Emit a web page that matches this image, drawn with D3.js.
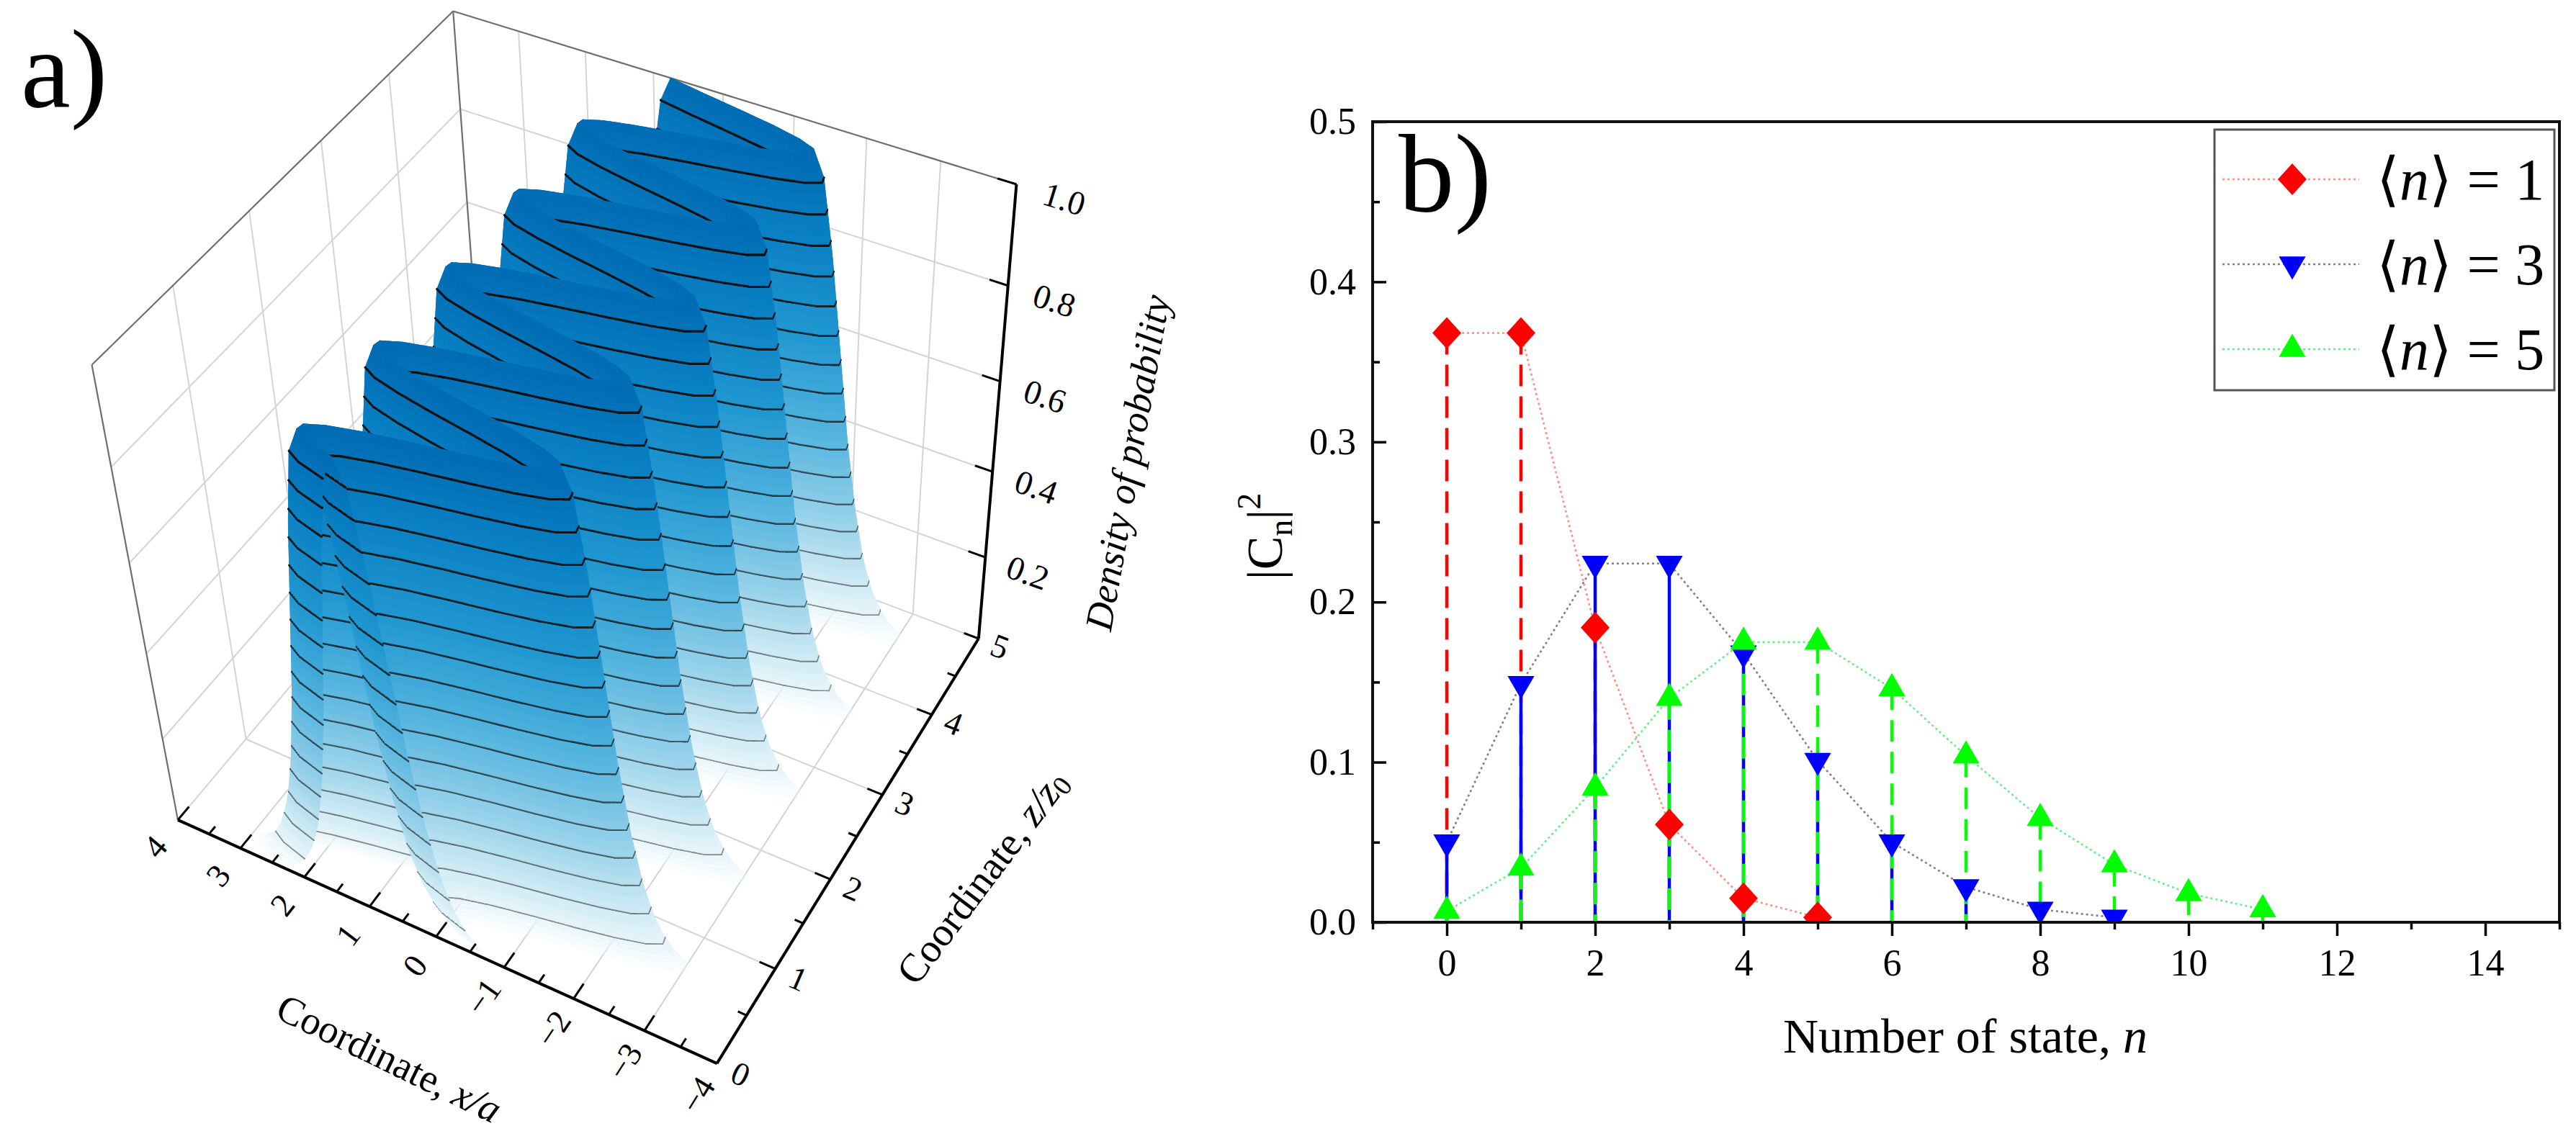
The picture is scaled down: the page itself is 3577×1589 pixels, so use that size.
<!DOCTYPE html>
<html>
<head>
<meta charset="utf-8">
<script src="https://cdn.jsdelivr.net/npm/d3@7"></script>
<style>
  body { margin: 0; background: #fff; }
  svg { display: block; }
  text { font-family: "Liberation Serif", "Times New Roman", serif; fill: #000; }
</style>
</head>
<body>
<div id="chart"></div>
<script>
// ---------- panel b data ----------
const statesN1 = [0, 1, 2, 3, 4, 5];
const probN1 = [0.368, 0.368, 0.184, 0.061, 0.015, 0.003];
const statesN3 = [0, 1, 2, 3, 4, 5, 6, 7, 8, 9];
const probN3 = [0.050, 0.149, 0.224, 0.224, 0.168, 0.101, 0.050, 0.022, 0.008, 0.003];
const statesN5 = [0, 1, 2, 3, 4, 5, 6, 7, 8, 9, 10, 11];
const probN5 = [0.007, 0.034, 0.084, 0.140, 0.175, 0.175, 0.146, 0.104, 0.065, 0.036, 0.018, 0.008];
const legendLabels = ["1", "3", "5"];
const xTicksB = [0, 2, 4, 6, 8, 10, 12, 14];
const xMinorB = [-1, 1, 3, 5, 7, 9, 11, 13, 15];
const yTicksB = [0, 0.1, 0.2, 0.3, 0.4, 0.5];
const yMinorB = [0.05, 0.15, 0.25, 0.35, 0.45];

// ---------- panel a data ----------
// ridge centre x/a of the density along z/z0 (read every 1/16 of z0)
const ridgeZ = [
  0, 0.0625, 0.125, 0.1875, 0.25, 0.3125, 0.375, 0.4375, 0.5, 0.5625, 0.625, 0.6875, 0.75, 0.8125, 0.875, 0.9375,
  1, 1.0625, 1.125, 1.1875, 1.25, 1.3125, 1.375, 1.4375, 1.5, 1.5625, 1.625, 1.6875, 1.75, 1.8125, 1.875, 1.9375,
  2, 2.0625, 2.125, 2.1875, 2.25, 2.3125, 2.375, 2.4375, 2.5, 2.5625, 2.625, 2.6875, 2.75, 2.8125, 2.875, 2.9375,
  3, 3.0625, 3.125, 3.1875, 3.25, 3.3125, 3.375, 3.4375, 3.5, 3.5625, 3.625, 3.6875, 3.75, 3.8125, 3.875, 3.9375,
  4, 4.0625, 4.125, 4.1875, 4.25, 4.3125, 4.375, 4.4375, 4.5, 4.5625, 4.625, 4.6875, 4.75, 4.8125, 4.875, 4.9375,
  5];
const ridgeX = [
  0.75, 1.14, 1.33, 1.31, 1.07, 0.66, 0.13, -0.44, -0.95, -1.34, -1.53, -1.51, -1.27, -0.86, -0.33, 0.24,
  0.75, 1.14, 1.33, 1.31, 1.07, 0.66, 0.13, -0.44, -0.95, -1.34, -1.53, -1.51, -1.27, -0.86, -0.33, 0.24,
  0.75, 1.14, 1.33, 1.31, 1.07, 0.66, 0.13, -0.44, -0.95, -1.34, -1.53, -1.51, -1.27, -0.86, -0.33, 0.24,
  0.75, 1.14, 1.33, 1.31, 1.07, 0.66, 0.13, -0.44, -0.95, -1.34, -1.53, -1.51, -1.27, -0.86, -0.33, 0.24,
  0.75, 1.14, 1.33, 1.31, 1.07, 0.66, 0.13, -0.44, -0.95, -1.34, -1.53, -1.51, -1.27, -0.86, -0.33, 0.24,
  0.75];
// density across the ridge (offset from centre in x/a)
const profileU = [0, 0.15, 0.3, 0.45, 0.6, 0.75, 0.9, 1.05, 1.2, 1.35, 1.5, 1.65];
const profileD = [1, 0.95, 0.80, 0.61, 0.42, 0.27, 0.16, 0.09, 0.05, 0.025, 0.01, 0];
const contourLevels = [0.05, 0.11, 0.17, 0.23, 0.29, 0.35, 0.41, 0.47,
  0.53, 0.59, 0.65, 0.71, 0.77, 0.83, 0.89, 0.95];
const xTicksA = [-4, -3, -2, -1, 0, 1, 2, 3, 4];
const zTicksA = [0, 1, 2, 3, 4, 5];
const dTicksA = [0.2, 0.4, 0.6, 0.8, 1.0];

// ---------- layout ----------
const W = 3577, H = 1589;
const serif = "Liberation Serif";

const svg = d3.select("#chart").append("svg")
  .attr("width", W).attr("height", H)
  .attr("viewBox", `0 0 ${W} ${H}`);

// ================= panel b =================
const bx = d3.scaleLinear().domain([-1, 15]).range([1906, 3554]);
const by = d3.scaleLinear().domain([0, 0.5]).range([1281, 169]);

const series = [
  { n: statesN1, p: probN1, color: "#ff0000", line: "#ff8f80", dash: "30,14", symbol: "diamond" },
  { n: statesN3, p: probN3, color: "#0000ff", line: "#808080", dash: null, symbol: "down" },
  { n: statesN5, p: probN5, color: "#00ff00", line: "#66ee80", dash: "30,14", symbol: "up" }
];

const gb = svg.append("g");
svg.append("defs").append("clipPath").attr("id", "clipB")
  .append("rect").attr("x", 1906).attr("y", 169).attr("width", 1648).attr("height", 1112);

const plotB = gb.append("g").attr("clip-path", "url(#clipB)");

// drop lines
series.forEach(s => {
  plotB.append("g").selectAll("line")
    .data(s.n.map((n, i) => [n, s.p[i]]))
    .join("line")
    .attr("x1", d => bx(d[0])).attr("x2", d => bx(d[0]))
    .attr("y1", d => by(d[1])).attr("y2", by(0))
    .attr("stroke", s.color).attr("stroke-width", 4.5)
    .attr("stroke-dasharray", s.dash);
});

// dotted connecting lines
const lineB = d3.line().x(d => bx(d[0])).y(d => by(d[1]));
series.forEach(s => {
  plotB.append("path")
    .attr("d", lineB(s.n.map((n, i) => [n, s.p[i]])))
    .attr("fill", "none").attr("stroke", s.line)
    .attr("stroke-width", 2.6).attr("stroke-dasharray", "3,4");
});

function markerPath(kind) {
  if (kind === "diamond") return d3.symbol(d3.symbolSquare, 800)();
  return d3.symbol(d3.symbolTriangle, 600)();
}
function markerTransform(kind, x, y) {
  if (kind === "diamond") return `translate(${x},${y}) scale(1,1.1) rotate(45)`;
  if (kind === "down") return `translate(${x},${y}) rotate(180)`;
  return `translate(${x},${y})`;
}

[series[1], series[2], series[0]].forEach(s => {
  plotB.append("g").selectAll("path")
    .data(s.n.map((n, i) => [n, s.p[i]]))
    .join("path")
    .attr("d", markerPath(s.symbol))
    .attr("transform", d => markerTransform(s.symbol, bx(d[0]), by(d[1])))
    .attr("fill", s.color);
});

// axes
const xAxisB = gb.append("g").attr("transform", `translate(0,${by(0)})`)
  .call(d3.axisBottom(bx).tickValues(xTicksB).tickSize(19).tickPadding(18));
const xMinorAxisB = gb.append("g").attr("transform", `translate(0,${by(0)})`)
  .call(d3.axisBottom(bx).tickValues(xMinorB).tickSize(10).tickFormat(""));
const yAxisB = gb.append("g").attr("transform", `translate(${bx(-1)},0)`)
  .call(d3.axisLeft(by).tickValues(yTicksB).tickSize(-19).tickPadding(23).tickFormat(d3.format(".1f")));
const yMinorAxisB = gb.append("g").attr("transform", `translate(${bx(-1)},0)`)
  .call(d3.axisLeft(by).tickValues(yMinorB).tickSize(-10).tickFormat(""));

[xAxisB, xMinorAxisB, yAxisB, yMinorAxisB].forEach(a => {
  a.select(".domain").remove();
  a.selectAll(".tick line").attr("stroke", "#000").attr("stroke-width", 3.5);
  a.selectAll("text").attr("font-family", serif).attr("font-size", 52).attr("fill", "#000");
});

gb.append("rect")
  .attr("x", bx(-1)).attr("y", by(0.5))
  .attr("width", bx(15) - bx(-1)).attr("height", by(0) - by(0.5))
  .attr("fill", "none").attr("stroke", "#111").attr("stroke-width", 4);

// axis titles
gb.append("text")
  .attr("x", 2729).attr("y", 1462)
  .attr("text-anchor", "middle").attr("font-size", 68)
  .call(t => {
    t.append("tspan").text("Number of state, ");
    t.append("tspan").attr("font-style", "italic").text("n");
  });

gb.append("text")
  .attr("transform", "translate(1780,745) rotate(-90)")
  .attr("text-anchor", "middle").attr("font-size", 70)
  .call(t => {
    t.append("tspan").text("|C");
    t.append("tspan").attr("font-size", 46).attr("dy", 14).text("n");
    t.append("tspan").attr("dy", -14).text("|");
    t.append("tspan").attr("font-size", 46).attr("dy", -30).text("2");
  });

gb.append("text").attr("x", 1942).attr("y", 293)
  .attr("font-size", 155).text("b)");

// legend
const legend = gb.append("g");
legend.append("rect")
  .attr("x", 3075).attr("y", 180).attr("width", 472).attr("height", 362)
  .attr("fill", "#fff").attr("stroke", "#555").attr("stroke-width", 3);
const legendY = [249, 367, 485];
series.forEach((s, i) => {
  const y = legendY[i];
  legend.append("line")
    .attr("x1", 3086).attr("x2", 3276).attr("y1", y).attr("y2", y)
    .attr("stroke", s.line).attr("stroke-width", 2.6).attr("stroke-dasharray", "3,4");
  legend.append("path")
    .attr("d", markerPath(s.symbol))
    .attr("transform", markerTransform(s.symbol, 3183, y))
    .attr("fill", s.color);
  legend.append("text")
    .attr("x", 3300).attr("y", y + 28).attr("font-size", 82)
    .call(t => {
      t.append("tspan").text("\u27E8");
      t.append("tspan").attr("font-style", "italic").text("n");
      t.append("tspan").text("\u27E9 = " + legendLabels[i]);
    });
});

// ================= panel a =================
// screen positions of box corners / axis ticks, used to fit the perspective camera
const frameAnchors = [
  { x: -4, z: 0, d: 0, px: [992, 1470] },
  { x: 4, z: 0, d: 0, px: [251, 1153] },
  { x: -4, z: 5, d: 0, px: [1357, 900] },
  { x: -4, z: 5, d: 1, px: [1414, 246] },
  { x: 4, z: 5, d: 1, px: [630, 30] },
  { x: 4, z: 0, d: 1, px: [123, 499] },
  { x: 0, z: 0, d: 0, px: [609, 1300] },
  { x: -4, z: 5, d: 0.6, px: [1390, 532] },
  { x: 4, z: 5, d: 0, px: [672, 612] }
];

function solveLinear(M, b) {
  const n = b.length;
  const A = M.map((row, i) => [...row, b[i]]);
  for (let c = 0; c < n; c++) {
    let p = c;
    for (let r = c + 1; r < n; r++) if (Math.abs(A[r][c]) > Math.abs(A[p][c])) p = r;
    [A[c], A[p]] = [A[p], A[c]];
    for (let r = 0; r < n; r++) {
      if (r === c) continue;
      const f = A[r][c] / A[c][c];
      for (let k = c; k <= n; k++) A[r][k] -= f * A[c][k];
    }
  }
  return A.map((row, i) => row[n] / row[i]);
}

function fitCamera(anchors) {
  const rows = [], rhs = [];
  anchors.forEach(a => {
    const X = (a.x + 4) / 8, Y = a.z / 5, Z = a.d;
    const u = a.px[0] / 1000, v = a.px[1] / 1000;
    rows.push([X, Y, Z, 1, 0, 0, 0, 0, -u * X, -u * Y, -u * Z]); rhs.push(u);
    rows.push([0, 0, 0, 0, X, Y, Z, 1, -v * X, -v * Y, -v * Z]); rhs.push(v);
  });
  const n = 11;
  const N = d3.range(n).map(i => d3.range(n).map(j => d3.sum(rows, r => r[i] * r[j])));
  const t = d3.range(n).map(i => d3.sum(rows, (r, k) => r[i] * rhs[k]));
  return solveLinear(N, t);
}

const cam = fitCamera(frameAnchors);

function project(x, z, d) {
  const X = (x + 4) / 8, Y = z / 5, Z = d;
  const w = cam[8] * X + cam[9] * Y + cam[10] * Z + 1;
  return [1000 * (cam[0] * X + cam[1] * Y + cam[2] * Z + cam[3]) / w,
          1000 * (cam[4] * X + cam[5] * Y + cam[6] * Z + cam[7]) / w, w];
}
const farSign = project(4, 5, 0)[2] > project(-4, 0, 0)[2] ? 1 : -1;

const ga = svg.append("g");
const seg3 = (a, b) => {
  const p = project(...a), q = project(...b);
  return `M${p[0]},${p[1]}L${q[0]},${q[1]}`;
};

// walls and floor grid
const gridA = ga.append("g").attr("stroke", "#d4d4d4").attr("stroke-width", 2).attr("fill", "none");
const gridSegs = [];
[-3, -2, -1, 0, 1, 2, 3].forEach(x => {
  gridSegs.push([[x, 0, 0], [x, 5, 0]]);
  gridSegs.push([[x, 5, 0], [x, 5, 1]]);
});
[1, 2, 3, 4].forEach(z => {
  gridSegs.push([[-4, z, 0], [4, z, 0]]);
  gridSegs.push([[4, z, 0], [4, z, 1]]);
});
[0.2, 0.4, 0.6, 0.8].forEach(d => {
  gridSegs.push([[4, 0, d], [4, 5, d]]);
  gridSegs.push([[4, 5, d], [-4, 5, d]]);
});
gridSegs.push([[4, 0, 0], [4, 5, 0]]);
gridSegs.push([[4, 5, 0], [-4, 5, 0]]);
gridA.selectAll("path").data(gridSegs).join("path").attr("d", s => seg3(s[0], s[1]));

const edgeA = ga.append("g").attr("stroke", "#6e6e6e").attr("stroke-width", 2.2).attr("fill", "none");
edgeA.selectAll("path").data([
  [[4, 0, 0], [4, 0, 1]],
  [[4, 0, 1], [4, 5, 1]],
  [[4, 5, 1], [-4, 5, 1]],
  [[4, 5, 0], [4, 5, 1]]
]).join("path").attr("d", s => seg3(s[0], s[1]));

// surface
const ridgeAt = d3.scaleLinear().domain(ridgeZ).range(ridgeX);
const densityAt = d3.scaleLinear().domain(profileU).range(profileD).clamp(true);
const offsetAt = d3.scaleLinear().domain(profileD).range(profileU);
const uMax = profileU[profileU.length - 1];

const contourU = contourLevels.map(l => offsetAt(l));
let uPos = [0, ...contourU, ...profileU.filter(u => u > offsetAt(contourLevels[0]))];
uPos = Array.from(new Set(uPos)).sort((a, b) => a - b);
let uFine = [];
uPos.forEach((u, i) => {
  if (i > 0) {
    const a = uPos[i - 1];
    uFine.push(a + (u - a) / 3, a + 2 * (u - a) / 3);
  }
  uFine.push(u);
});
const uCols = [...uFine.slice(1).map(u => -u).reverse(), ...uFine];
const isContour = uCols.map(u => contourU.some(c => Math.abs(Math.abs(u) - c) < 1e-9));
const zRows = d3.range(0, 5.0001, 0.0125);

const colorA = d3.scaleLinear()
  .domain([0, 0.08, 0.25, 0.45, 0.65, 0.85, 1])
  .range(["#f5fbfd", "#dcf0f7", "#99d2ea", "#52b3de", "#2097d0", "#0a80c3", "#006cb4"])
  .interpolate(d3.interpolateRgb);

const grid = zRows.map(z => uCols.map(u => {
  const x = ridgeAt(z) + u;
  const d = densityAt(Math.abs(u));
  const p = project(x, z, d);
  return { x, z, d, p };
}));

const quads = [];
for (let i = 0; i < zRows.length - 1; i++) {
  for (let j = 0; j < uCols.length - 1; j++) {
    const c = [grid[i][j], grid[i + 1][j], grid[i + 1][j + 1], grid[i][j + 1]];
    const dAvg = d3.mean(c, q => q.d);
    if (dAvg < 0.005) continue;
    quads.push({
      c, i, j, dAvg,
      depth: farSign * d3.mean(c, q => q.p[2])
    });
  }
}
quads.sort((a, b) => b.depth - a.depth);

const surf = ga.append("g");
quads.forEach(q => {
  const col = colorA(q.dAvg);
  const op = Math.min(1, q.dAvg / 0.06);
  surf.append("path")
    .attr("d", "M" + q.c.map(v => v.p[0] + "," + v.p[1]).join("L") + "Z")
    .attr("fill", col).attr("fill-opacity", op)
    .attr("stroke", col).attr("stroke-opacity", op).attr("stroke-width", 1.2)
    .attr("stroke-linejoin", "round");
  [[0, 1, q.j], [3, 2, q.j + 1]].forEach(([a, b, col]) => {
    if (!isContour[col]) return;
    const lvl = q.c[a].d;
    surf.append("path")
      .attr("d", `M${q.c[a].p[0]},${q.c[a].p[1]}L${q.c[b].p[0]},${q.c[b].p[1]}`)
      .attr("stroke", "#111").attr("stroke-opacity", 0.4 + 0.6 * lvl)
      .attr("stroke-width", 1.6 + 1.6 * lvl).attr("stroke-linecap", "round");
  });
});

// axes of panel a
const axisA = ga.append("g").attr("stroke", "#000").attr("stroke-width", 4).attr("fill", "none");
axisA.append("path").attr("d", seg3([-4, 0, 0], [4, 0, 0]));
axisA.append("path").attr("d", seg3([-4, 0, 0], [-4, 5, 0]));
axisA.append("path").attr("d", seg3([-4, 5, 0], [-4, 5, 1]));

const tickA = ga.append("g").attr("stroke", "#000").attr("stroke-width", 3).attr("fill", "none");
d3.range(-4, 4.01, 0.5).forEach(x => {
  const len = Number.isInteger(x) ? 0.16 : 0.09;
  tickA.append("path").attr("d", seg3([x, 0, 0], [x, len, 0]));
});
d3.range(0, 5.01, 0.5).forEach(z => {
  const len = Number.isInteger(z) ? 0.22 : 0.12;
  tickA.append("path").attr("d", seg3([-4, z, 0], [-4 + len, z, 0]));
});
dTicksA.forEach(d => {
  tickA.append("path").attr("d", seg3([-4, 5, d], [-3.75, 5, d]));
});

function angleOf(a, b) {
  const p = project(...a), q = project(...b);
  return Math.atan2(q[1] - p[1], q[0] - p[0]) * 180 / Math.PI;
}
function placeLabel(g, pos, angle, text, size) {
  const p = project(...pos);
  return g.append("text")
    .attr("transform", `translate(${p[0]},${p[1]}) rotate(${angle})`)
    .attr("text-anchor", "middle").attr("dominant-baseline", "central")
    .attr("font-size", size).text(text);
}
const labA = ga.append("g");
const fmtTick = t => (t < 0 ? "\u2212" + Math.abs(t) : String(t));
xTicksA.forEach(x => {
  placeLabel(labA, [x, -0.32, 0], angleOf([x, 0, 0], [x, 1, 0]), fmtTick(x), 46);
});
zTicksA.forEach(z => {
  placeLabel(labA, [-4.32, z, 0], angleOf([-3, z, 0], [-4, z, 0]), String(z), 46);
});
dTicksA.forEach(d => {
  placeLabel(labA, [-4.62, 5, d], angleOf([-3, 5, d], [-4, 5, d]), d.toFixed(1), 47);
});

// titles of panel a
{
  const p = project(-0.45, -1.15, 0);
  labA.append("text")
    .attr("transform", `translate(${p[0]},${p[1]}) rotate(26)`)
    .attr("text-anchor", "middle").attr("dominant-baseline", "central").attr("font-size", 55)
    .call(t => {
      t.append("tspan").text("Coordinate, ");
      t.append("tspan").attr("font-style", "italic").text("x/a");
    });
}
{
  const p = project(-5.7, 2.6, 0);
  labA.append("text")
    .attr("transform", `translate(${p[0]},${p[1]}) rotate(-53)`)
    .attr("text-anchor", "middle").attr("dominant-baseline", "central").attr("font-size", 56)
    .call(t => {
      t.append("tspan").text("Coordinate, ");
      t.append("tspan").attr("font-style", "italic").text("z/z");
      t.append("tspan").attr("font-size", 38).attr("dy", 12).text("0");
    });
}
{
  const p = project(-5.8, 5, 0.52);
  labA.append("text")
    .attr("transform", `translate(${p[0]},${p[1]}) rotate(-80)`)
    .attr("text-anchor", "middle").attr("dominant-baseline", "central")
    .attr("font-size", 54).attr("font-style", "italic")
    .text("Density of probability");
}

svg.append("text").attr("x", 29).attr("y", 148)
  .attr("font-size", 155).text("a)");
</script>
</body>
</html>
